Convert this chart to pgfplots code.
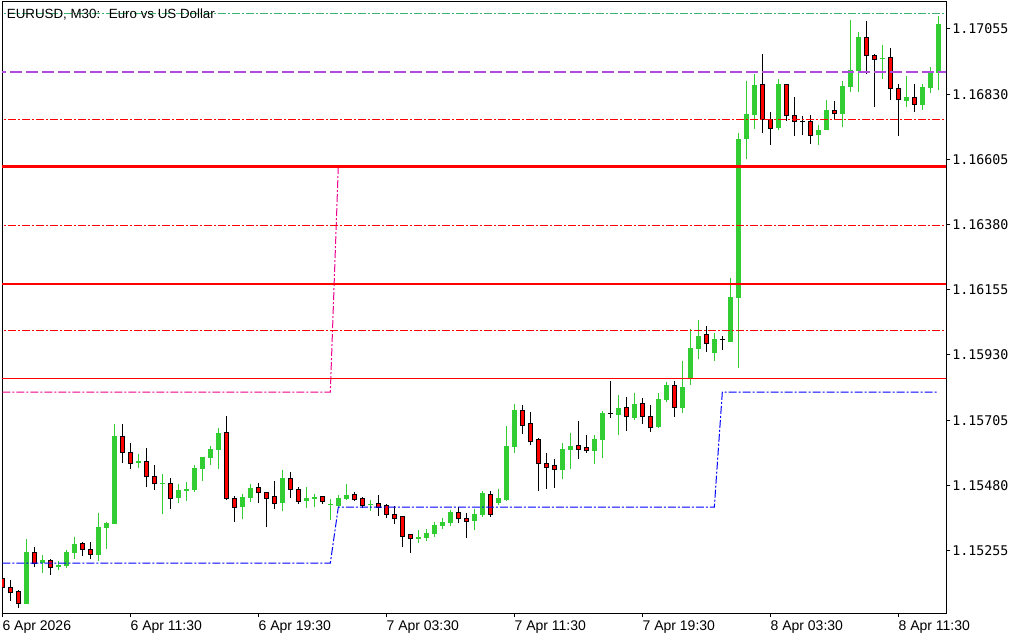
\documentclass[border=0pt]{standalone}
\usepackage{fontspec}
\setmainfont{Liberation Sans}
\newfontfamily\monofont{DejaVu Sans Mono}
\usepackage{pgfplots}
\usepackage{pgfplotstable}
\pgfplotsset{compat=1.18}
\definecolor{cgreen}{RGB}{50,205,50}
\definecolor{cpurple}{RGB}{175,75,225}
\definecolor{lgreen}{RGB}{60,179,113}

% bullish candles: bar index, open, high, low, close
\pgfplotstableread{
i o h l c
3 1.15071 1.15295 1.15071 1.15250
5 1.15212 1.15240 1.15178 1.15222
7 1.15198 1.15219 1.15188 1.15205
8 1.15202 1.15257 1.15195 1.15250
9 1.15247 1.15302 1.15226 1.15278
12 1.15240 1.15385 1.15219 1.15336
13 1.15333 1.15354 1.15260 1.15350
14 1.15347 1.15692 1.15347 1.15650
17 1.15557 1.15588 1.15540 1.15564
20 1.15485 1.15519 1.15381 1.15488
22 1.15436 1.15485 1.15419 1.15464
23 1.15461 1.15492 1.15426 1.15467
24 1.15464 1.15550 1.15457 1.15540
25 1.15536 1.15578 1.15495 1.15578
26 1.15574 1.15616 1.15550 1.15605
27 1.15602 1.15678 1.15536 1.15661
30 1.15405 1.15450 1.15364 1.15440
31 1.15436 1.15485 1.15423 1.15471
35 1.15419 1.15533 1.15392 1.15505
38 1.15426 1.15474 1.15402 1.15436
39 1.15433 1.15450 1.15405 1.15440
41 1.15411 1.15433 1.15360 1.15412
42 1.15409 1.15447 1.15402 1.15436
43 1.15433 1.15485 1.15430 1.15447
46 1.15412 1.15430 1.15392 1.15414
52 1.15295 1.15326 1.15281 1.15302
53 1.15298 1.15329 1.15288 1.15316
54 1.15312 1.15354 1.15302 1.15343
55 1.15340 1.15367 1.15329 1.15354
56 1.15350 1.15395 1.15340 1.15388
59 1.15357 1.15398 1.15326 1.15381
60 1.15378 1.15461 1.15371 1.15454
62 1.15419 1.15467 1.15412 1.15436
63 1.15430 1.15685 1.15426 1.15616
64 1.15612 1.15761 1.15592 1.15740
70 1.15533 1.15626 1.15502 1.15605
71 1.15602 1.15661 1.15536 1.15616
74 1.15599 1.15654 1.15554 1.15640
75 1.15637 1.15737 1.15574 1.15730
77 1.15723 1.15792 1.15654 1.15747
79 1.15712 1.15799 1.15706 1.15761
82 1.15681 1.15799 1.15678 1.15778
83 1.15775 1.15837 1.15768 1.15826
85 1.15747 1.15909 1.15730 1.15819
86 1.15847 1.16020 1.15826 1.15954
87 1.15951 1.16051 1.15916 1.15995
89 1.15937 1.16006 1.15909 1.15985
91 1.15975 1.16196 1.15975 1.16130
92 1.16127 1.16696 1.15885 1.16675
93 1.16675 1.16875 1.16606 1.16762
94 1.16758 1.16900 1.16710 1.16862
97 1.16713 1.16882 1.16706 1.16865
102 1.16689 1.16724 1.16655 1.16706
103 1.16706 1.16810 1.16706 1.16775
105 1.16762 1.16875 1.16717 1.16858
106 1.16855 1.17086 1.16838 1.16913
107 1.16910 1.17045 1.16838 1.17027
110 1.16951 1.17000 1.16882 1.16953
113 1.16806 1.16893 1.16786 1.16820
115 1.16793 1.16865 1.16775 1.16855
116 1.16851 1.16924 1.16834 1.16903
117 1.16903 1.17100 1.16844 1.17072
}\bull

% bearish candles and dojis: bar index, open, high, low, close
\pgfplotstableread{
i o h l c
0 1.15157 1.15164 1.15102 1.15126
1 1.15126 1.15153 1.15081 1.15109
2 1.15112 1.15119 1.15057 1.15074
4 1.15250 1.15267 1.15198 1.15212
6 1.15222 1.15226 1.15171 1.15195
10 1.15278 1.15285 1.15236 1.15260
11 1.15260 1.15285 1.15226 1.15243
15 1.15647 1.15692 1.15557 1.15595
16 1.15595 1.15626 1.15536 1.15557
18 1.15564 1.15609 1.15474 1.15509
19 1.15509 1.15550 1.15464 1.15485
21 1.15488 1.15505 1.15398 1.15436
28 1.15661 1.15719 1.15430 1.15433
29 1.15436 1.15443 1.15354 1.15405
32 1.15471 1.15488 1.15419 1.15454
33 1.15457 1.15457 1.15336 1.15436
34 1.15443 1.15495 1.15398 1.15419
36 1.15505 1.15526 1.15436 1.15464
37 1.15464 1.15474 1.15416 1.15426
40 1.15440 1.15443 1.15416 1.15423
44 1.15447 1.15457 1.15426 1.15430
45 1.15433 1.15440 1.15402 1.15409
47 1.15416 1.15447 1.15374 1.15405
48 1.15409 1.15416 1.15367 1.15381
49 1.15381 1.15409 1.15347 1.15367
50 1.15371 1.15374 1.15267 1.15305
51 1.15309 1.15312 1.15247 1.15295
57 1.15388 1.15405 1.15350 1.15364
58 1.15367 1.15385 1.15298 1.15357
61 1.15450 1.15461 1.15371 1.15381
65 1.15740 1.15757 1.15657 1.15685
66 1.15695 1.15733 1.15619 1.15630
67 1.15637 1.15643 1.15461 1.15554
68 1.15557 1.15592 1.15467 1.15543
69 1.15547 1.15571 1.15471 1.15533
72 1.15616 1.15702 1.15571 1.15605
73 1.15609 1.15654 1.15592 1.15599
76 1.15728 1.15840 1.15712 1.15728
78 1.15747 1.15785 1.15668 1.15716
80 1.15761 1.15781 1.15692 1.15719
81 1.15719 1.15757 1.15664 1.15678
84 1.15826 1.15840 1.15716 1.15750
88 1.15999 1.16030 1.15940 1.15968
90 1.15983 1.15995 1.15947 1.15983
95 1.16862 1.16969 1.16696 1.16744
96 1.16744 1.16768 1.16655 1.16713
98 1.16865 1.16865 1.16737 1.16755
99 1.16755 1.16820 1.16686 1.16734
100 1.16737 1.16755 1.16689 1.16737
101 1.16737 1.16758 1.16658 1.16689
104 1.16772 1.16806 1.16744 1.16762
108 1.17027 1.17083 1.16900 1.16962
109 1.16962 1.16969 1.16786 1.16951
111 1.16955 1.16989 1.16810 1.16848
112 1.16848 1.16865 1.16686 1.16810
114 1.16820 1.16865 1.16768 1.16796
}\bear

\begin{document}
\begin{tikzpicture}
\useasboundingbox (0,0) rectangle (768pt,480pt);
\begin{axis}[
  at={(1.5pt,20.25pt)}, anchor=south west,
  scale only axis, width=708pt, height=458.25pt,
  xmin=-0.04, xmax=117.96, ymin=1.150395, ymax=1.17148,
  axis line style={black, line width=0.75pt},
  tick align=outside, major tick length=3pt,
  tick style={black, line width=0.75pt},
  xtick pos=bottom, ytick pos=right, yticklabel pos=right,
  xtick={0,16,32,48,64,80,96,112},
  xticklabels={6 Apr 2026,6 Apr 11:30,6 Apr 19:30,7 Apr 03:30,7 Apr 11:30,7 Apr 19:30,8 Apr 03:30,8 Apr 11:30},
  ytick={1.15255,1.15480,1.15705,1.15930,1.16155,1.16380,1.16605,1.16830,1.17055},
  yticklabels={1.15255,1.15480,1.15705,1.15930,1.16155,1.16380,1.16605,1.16830,1.17055},
  xticklabel style={font=\fontsize{10.5}{12}\selectfont, anchor=north west, inner sep=0pt, yshift=-2.5pt},
  yticklabel style={font=\monofont\fontsize{10}{12}\selectfont, anchor=west, inner sep=0pt, xshift=1.5pt},
  candle/.style={draw=none, mark=none, forget plot, error bars/.cd, y dir=plus, y explicit, error mark=none},
]
% bullish wicks and bodies
\addplot [candle, error bar style={draw=cgreen, line width=0.75pt}]
  table [x=i, y=l, y error expr=\thisrow{h}-\thisrow{l}] {\bull};
\addplot [candle, error bar style={draw=cgreen, line width=3.75pt}]
  table [x=i, y=o, y error expr={max(\thisrow{c}-\thisrow{o},0.0000345)}] {\bull};
% bearish wicks and bodies
\addplot [candle, error bar style={draw=black, line width=0.75pt}]
  table [x=i, y=l, y error expr=\thisrow{h}-\thisrow{l}] {\bear};
\addplot [candle, error bar style={draw=black, line width=3.75pt}]
  table [x=i, y expr=\thisrow{c}-0.00001725, y error expr=\thisrow{o}-\thisrow{c}+0.0000345] {\bear};
\addplot [candle, error bar style={draw=red, line width=2.25pt}]
  table [x=i, y expr=\thisrow{c}+0.00001725, y error expr={max(\thisrow{o}-\thisrow{c}-0.0000345,0)}] {\bear};

% horizontal levels
\addplot [lgreen, line width=0.75pt, dash pattern=on 6pt off 1.5pt on 1.5pt off 1.5pt] coordinates {(-1,1.17110) (119,1.17110)};
\addplot [cpurple, line width=1pt, dash pattern=on 9pt off 3pt] coordinates {(-1,1.16907) (119,1.16907)};
\addplot [red, line width=0.75pt, dash pattern=on 6pt off 1.5pt on 1.5pt off 1.5pt] coordinates {(-1,1.16744) (119,1.16744)};
\addplot [magenta, line width=0.75pt, dash pattern=on 6pt off 1.5pt on 1.5pt off 1.5pt] coordinates {(0,1.15802) (41,1.15802) (42,1.16582) (117,1.16582)};
\addplot [red, line width=2.25pt] coordinates {(-1,1.16582) (119,1.16582)};
\addplot [red, line width=0.75pt, dash pattern=on 6pt off 1.5pt on 1.5pt off 1.5pt] coordinates {(-1,1.16378) (119,1.16378)};
\addplot [red, line width=1.5pt] coordinates {(-1,1.16175) (119,1.16175)};
\addplot [red, line width=0.75pt, dash pattern=on 6pt off 1.5pt on 1.5pt off 1.5pt] coordinates {(-1,1.16013) (119,1.16013)};
\addplot [red, line width=0.75pt] coordinates {(-1,1.15850) (119,1.15850)};
% step indicator
\addplot [blue, line width=0.75pt, dash pattern=on 6pt off 1.5pt on 1.5pt off 1.5pt] coordinates {(0,1.15212) (41,1.15212) (42,1.15405) (89,1.15405) (90,1.15802) (117,1.15802)};

\node [anchor=base west, inner sep=0pt, font=\fontsize{10}{12}\selectfont]
  at ([shift={(3.5pt,-12.2pt)}]rel axis cs:0,1) {EURUSD, M30:~ Euro vs US Dollar};
\end{axis}
\end{tikzpicture}
\end{document}
